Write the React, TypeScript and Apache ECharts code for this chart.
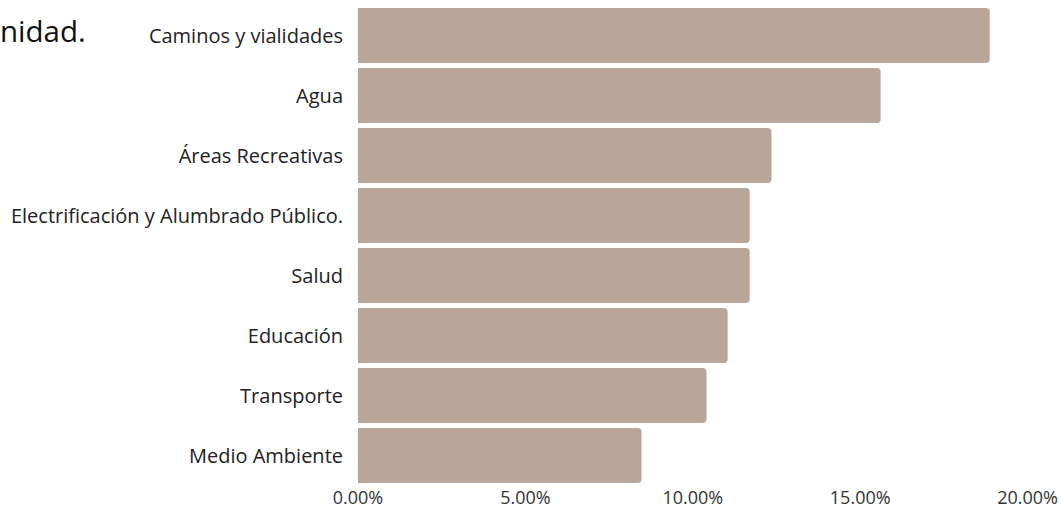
import React, { useEffect, useRef } from "react";
import * as echarts from "echarts";

const categories = [
  "Caminos y vialidades",
  "Agua",
  "Áreas Recreativas",
  "Electrificación y Alumbrado Público.",
  "Salud",
  "Educación",
  "Transporte",
  "Medio Ambiente",
];
const values = [18.87, 15.61, 12.35, 11.7, 11.7, 11.04, 10.41, 8.47];
const titleText = "nidad.";

export default function App() {
  const ref = useRef<HTMLDivElement>(null);
  useEffect(() => {
    if (!ref.current) return;
    const chart = echarts.init(ref.current, null, { renderer: "svg" });
    const font = "'Open Sans', sans-serif";
    chart.setOption({
      animation: false,
      grid: { left: 358, right: 33, top: 5.5, bottom: 22.5, containLabel: false },
      graphic: [
        {
          type: "text",
          left: 0,
          top: 15,
          style: { text: titleText, fontFamily: font, fontSize: 29.5, fill: "#111" },
        },
      ],
      xAxis: {
        type: "value",
        min: 0,
        max: 20,
        interval: 5,
        axisLine: { show: false },
        axisTick: { show: false },
        splitLine: { show: false },
        axisLabel: {
          formatter: (v: number) => v.toFixed(2) + "%",
          color: "#333",
          fontFamily: font,
          fontSize: 18,
          lineHeight: 18,
          margin: 2,
        },
      },
      yAxis: {
        type: "category",
        data: categories,
        inverse: true,
        axisLine: { show: false },
        axisTick: { show: false },
        axisLabel: { color: "#222", fontFamily: font, fontSize: 20, margin: 15 },
      },
      series: [
        {
          type: "bar",
          data: values,
          barCategoryGap: "8%",
          itemStyle: { color: "#b8a698", borderRadius: [0, 4, 4, 0] },
        },
      ],
    });
    return () => chart.dispose();
  }, []);
  return <div ref={ref} style={{ width: 1061, height: 508, position: "absolute", left: 0, top: 0 }} />;
}
